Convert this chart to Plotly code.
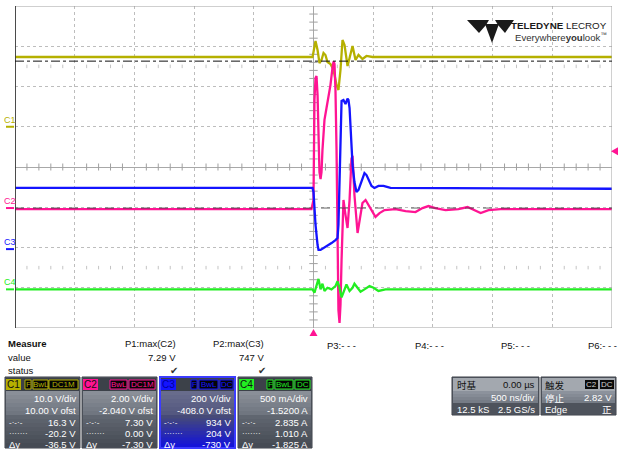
import plotly.graph_objects as go

W, H = 618, 449

# ---------------- acquisition record (time in µs, 0 = trigger) ----------------
c1_t = [-2.5, -0.008, 0.0, 0.017, 0.034, 0.050, 0.067, 0.084, 0.100, 0.117, 0.142, 0.168, 0.193,
        0.209, 0.226, 0.243, 0.260, 0.285, 0.302, 0.327, 0.352, 0.377, 0.410, 0.444, 0.494, 2.5]
c1_v = [17.33, 17.33, 18.57, 21.3, 19.07, 15.84, 16.58, 18.32, 17.83, 16.09, 15.59, 14.1, 10.37,
        9.13, 14.1, 21.55, 20.31, 15.09, 17.08, 20.06, 16.58, 17.83, 16.83, 17.58, 17.33, 17.33]

c2_t = [-2.5, -0.017, 0.0, 0.008, 0.017, 0.025, 0.034, 0.042, 0.050, 0.059, 0.067, 0.075, 0.092,
        0.109, 0.126, 0.142, 0.159, 0.168, 0.176, 0.184, 0.193, 0.201, 0.209, 0.218, 0.226, 0.235,
        0.243, 0.251, 0.268, 0.285, 0.302, 0.318, 0.327, 0.343, 0.369, 0.385, 0.410, 0.436, 0.461,
        0.494, 0.519, 0.553, 0.595, 0.687, 0.771, 0.854, 0.913, 0.963, 1.020, 1.106, 1.214, 1.290,
        1.348, 1.400, 1.466, 1.566, 2.5]
c2_v = [-0.05, -0.05, 0.40, 5.37, 6.46, 6.56, 5.62, 2.88, 1.79, 1.44, 1.79, 2.88, 4.38,
        4.97, 5.47, 6.11, 6.96, 7.29, 7.16, 5.87, 2.88, -2.08, -5.07, -5.71, -4.82, -2.58,
        -0.34, 0.40, -0.34, -0.99, 0.40, 2.45, 2.60, 0.65, -1.24, -0.69, 0.25, 0.40, 0.15,
        -0.25, -0.44, -0.25, -0.10, -0.05, -0.15, -0.20, 0.0, 0.10, 0.0, -0.10, -0.05, 0.05,
        -0.10, -0.25, -0.10, -0.05, -0.05]

c3_t = [-2.5, -0.008, 0.0, 0.017, 0.034, 0.042, 0.059, 0.084, 0.117, 0.151, 0.184, 0.201, 0.209,
        0.218, 0.226, 0.235, 0.251, 0.268, 0.285, 0.293, 0.302, 0.310, 0.318, 0.327, 0.343, 0.360,
        0.377, 0.394, 0.410, 0.427, 0.444, 0.461, 0.486, 0.511, 0.544, 0.586, 0.645, 2.5]
c3_v = [304, 304, 284, 120, 20, -4, -4, 5, 15, 30, 45, 55, 120,
        393, 642, 736, 741, 721, 747, 741, 701, 617, 492, 418, 333, 284,
        294, 324, 353, 378, 368, 343, 314, 304, 314, 314, 304, 300]

c4_t = [-2.5, -0.008, 0.008, 0.025, 0.042, 0.059, 0.075, 0.092, 0.117, 0.151, 0.184, 0.201, 0.218,
        0.235, 0.251, 0.276, 0.302, 0.327, 0.343, 0.369, 0.394, 0.427, 0.469, 0.503, 0.544, 0.603, 2.5]
c4_v = [0, 0, -0.04, 0.04, 0.13, 0.0, 0.07, -0.02, 0.02, 0.0, 0.04, 0.10, 0.02,
        -0.10, -0.03, 0.06, -0.02, 0.02, 0.07, 0.02, -0.03, 0.0, 0.04, 0.02, -0.02, 0.0, 0.0]

# vertical setup per channel: scale per division and offset
ch_names = ["C1", "C2", "C3", "C4"]
ch_vdiv = [10.0, 2.00, 200.0, 0.5]
ch_ofst = [10.0, -2.040, -408.0, -1.52]
ch_color = ["#b5b000", "#ff1493", "#1414ff", "#22ee22"]
ch_time = [c1_t, c2_t, c3_t, c4_t]
ch_vals = [c1_v, c2_v, c3_v, c4_v]

# on-screen cursors (C2 units) and trigger level
cursor_hi = 7.30
cursor_lo = 0.00
trig_level = 2.82

# readouts
meas_names = ["P1:max(C2)", "P2:max(C3)"]
meas_vals = ["7.29 V", "747 V"]
ch_rows = [
    ["10.0 V/div", "10.00 V ofst", "16.3 V", "-20.2 V", "-36.5 V"],
    ["2.00 V/div", "-2.040 V ofst", "7.30 V", "0.00 V", "-7.30 V"],
    ["200 V/div", "-408.0 V ofst", "934 V", "204 V", "-730 V"],
    ["500 mA/div", "-1.5200 A", "2.835 A", "1.010 A", "-1.825 A"],
]
ch_tags = [["F", "BwL", "DC1M"], ["BwL", "DC1M"], ["F", "BwL", "DC"], ["F", "BwL", "DC"]]

FONT = "Liberation Sans, Arial, sans-serif"
CJK = "Noto Sans CJK SC, sans-serif"
FS = 9.5


def px(x):
    return x / W


def py(y):
    return 1 - y / H


fig = go.Figure()
shapes = []
ann = []

# ---------------- graticule ----------------
X0, X1, Y0, Y1 = 15, 612, 6, 328
US_PER_PX = 5.0 / (X1 - X0)
layout_axes = dict(
    xaxis=dict(domain=[px(X0), px(X1)], range=[-2.5, 2.5], dtick=0.5, tick0=0,
               showticklabels=False, ticks="", showgrid=True, gridcolor="#bdbdbd",
               griddash="dot", gridwidth=1, zeroline=True, zerolinecolor="#a8a8a8",
               zerolinewidth=1, fixedrange=True, showline=False),
    yaxis=dict(domain=[py(Y1), py(Y0)], range=[-4, 4], dtick=1, tick0=0,
               showticklabels=False, ticks="", showgrid=True, gridcolor="#bdbdbd",
               griddash="dot", gridwidth=1, zeroline=True, zerolinecolor="#a8a8a8",
               zerolinewidth=1, fixedrange=True, showline=False),
)
for i in range(4):
    c = -ch_ofst[i]
    layout_axes["yaxis%d" % (i + 2)] = dict(
        overlaying="y", anchor="x", visible=False, fixedrange=True,
        range=[c - 4 * ch_vdiv[i], c + 4 * ch_vdiv[i]])

# minor ticks on the centre cross and the ±2.5 div rows
mx = [k / 10 for k in range(-24, 25) if k % 5 != 0]
my = [k / 5 for k in range(-19, 20) if k % 5 != 0]
tick_style = dict(mode="markers", hoverinfo="skip", showlegend=False, cliponaxis=False)
fig.add_trace(go.Scatter(x=mx, y=[0] * len(mx), marker=dict(symbol="line-ns", size=5,
              line=dict(color="#a0a0a0", width=1)), **tick_style))
fig.add_trace(go.Scatter(x=[0] * len(my), y=my, marker=dict(symbol="line-ew", size=6,
              line=dict(color="#a0a0a0", width=1)), **tick_style))
for row in (2.5, -2.5):
    fig.add_trace(go.Scatter(x=mx, y=[row] * len(mx), marker=dict(symbol="line-ns", size=2.5,
                  line=dict(color="#c4c4c4", width=1)), **tick_style))

# frame
shapes.append(dict(type="rect", xref="x", yref="y", x0=-2.5, x1=2.5, y0=-4, y1=4,
                   line=dict(color="#a0a0a0", width=1), layer="above"))
shapes.append(dict(type="line", xref="x", yref="y", x0=-2.5, x1=-2.5, y0=-4, y1=4,
                   line=dict(color="#2a2a2a", width=1.6), layer="above"))

# ---------------- waveforms ----------------
for i in range(4):
    fig.add_trace(go.Scatter(x=ch_time[i], y=ch_vals[i], yaxis="y%d" % (i + 2), mode="lines",
                             line=dict(color=ch_color[i], width=2.3), hoverinfo="skip",
                             showlegend=False, name=ch_names[i]))

# cursors
shapes.append(dict(type="line", xref="x", yref="y3", x0=-2.5, x1=2.5, y0=cursor_hi, y1=cursor_hi,
                   line=dict(color="#111111", width=1, dash="dashdot"), layer="above"))
shapes.append(dict(type="line", xref="x", yref="y3", x0=-2.5, x1=2.5, y0=cursor_lo, y1=cursor_lo,
                   line=dict(color="#3a3a3a", width=1, dash="dash"), layer="above", opacity=0.75))

# trigger level arrow (right edge) and trigger position arrow (below the grid)
dv = 4 * ch_vdiv[1] / 40.25
shapes.append(dict(type="path", xref="paper", yref="y3",
                   path="M %.5f,%.4f L %.5f,%.4f L %.5f,%.4f Z" % (
                       px(618), trig_level + dv, px(611), trig_level, px(618), trig_level - dv),
                   fillcolor=ch_color[1], line=dict(width=0)))
dt = 4 * US_PER_PX
shapes.append(dict(type="path", xref="x", yref="paper",
                   path="M %.4f,%.5f L 0,%.5f L %.4f,%.5f Z" % (-dt, py(336), py(329), dt, py(336)),
                   fillcolor=ch_color[1], line=dict(width=0)))

# channel ground markers on the left
for i in range(4):
    ref = "y%d" % (i + 2)
    shapes.append(dict(type="line", xref="paper", yref=ref, x0=px(6), x1=px(14), y0=0, y1=0,
                       line=dict(color=ch_color[i], width=2)))
    ann.append(dict(text=ch_names[i], xref="paper", yref=ref, x=px(10), y=0, yshift=7,
                    showarrow=False, xanchor="center", yanchor="middle",
                    font=dict(family=FONT, size=9, color=ch_color[i])))


# ---------------- logo ----------------
def poly(pts, color):
    d = "M " + " L ".join("%.5f,%.5f" % (px(a), py(b)) for a, b in pts) + " Z"
    return dict(type="path", xref="paper", yref="paper", path=d, fillcolor=color,
                line=dict(width=0))


shapes.append(poly([(467, 20), (489, 20), (486, 25), (479, 33)], "#1a1a1a"))
shapes.append(poly([(485, 24), (499, 24), (492, 43)], "#1a1a1a"))
shapes.append(poly([(495, 20), (514, 20), (505, 33), (498, 25)], "#1a1a1a"))
ann.append(dict(text="<b>TELEDYNE</b> LECROY", xref="paper", yref="paper", x=px(609), y=py(25),
                showarrow=False, xanchor="right", yanchor="middle",
                font=dict(family=FONT, size=9.8, color="#1a1a1a")))
ann.append(dict(text="Everywhere<b>you</b>look<sup>™</sup>", xref="paper", yref="paper",
                x=px(609), y=py(37), showarrow=False, xanchor="right", yanchor="middle",
                font=dict(family=FONT, size=9.6, color="#333333")))


# ---------------- measurement table ----------------
def text(s, x, y, anchor="left", size=FS, color="#111111", family=FONT):
    ann.append(dict(text=s, xref="paper", yref="paper", x=px(x), y=py(y), showarrow=False,
                    xanchor=anchor, yanchor="middle", font=dict(family=family, size=size, color=color)))


text("<b>Measure</b>", 6, 343)
text("value", 6, 357)
text("status", 6, 370)
for name, val, xr in zip(meas_names, meas_vals, (178, 266)):
    text(name, xr, 343, "right")
    text(val, xr, 357, "right")
    text("✔", xr - 4, 370, "center", 10, "#333333", "DejaVu Sans, sans-serif")
for name, xl in zip(["P3:- - -", "P4:- - -", "P5:- - -", "P6:- - -"], (325, 413, 499, 586)):
    text(name, xl, 345, "left")


def rect(x0, y0, x1, y1, fill, line=None, lw=0):
    shapes.append(dict(type="rect", xref="paper", yref="paper", x0=px(x0), x1=px(x1),
                       y0=py(y1), y1=py(y0), fillcolor=fill,
                       line=dict(color=line or fill, width=lw)))


def gradient(x0, y0, x1, y1, c_top, c_bot, steps=8):
    h = (y1 - y0) / steps
    for k in range(steps):
        f = k / (steps - 1)
        col = "rgb(%d,%d,%d)" % tuple(int(round(a + (b - a) * f)) for a, b in zip(c_top, c_bot))
        rect(x0, y0 + k * h, x1, y0 + (k + 1) * h + 0.5, col)


box_x = [(5, 80), (82, 157), (160, 235), (238, 312)]
badge_w = 15
tag_pos = [[(25, 31), (33, 48), (49, 78)],
           [(110, 127), (129, 155)],
           [(191, 197), (199, 218), (220, 233)],
           [(267, 273), (275, 293), (295, 310)]]
for i, (xa, xb) in enumerate(box_x):
    col = ch_color[i]
    sel = (i == 2)
    rect(xa, 377, xb, 448, "#5a606a", "#3a3f47", 1)
    rect(xa + 1, 378, xb - 1, 391, "#3c4149")
    if sel:
        gradient(xa + 1, 391, xb - 1, 415, (104, 108, 140), (84, 88, 128), 6)
        gradient(xa + 1, 415, xb - 1, 447, (70, 74, 120), (20, 20, 215), 10)
    else:
        gradient(xa + 1, 391, xb - 1, 415, (138, 143, 152), (112, 118, 128), 6)
        gradient(xa + 1, 415, xb - 1, 447, (96, 102, 112), (70, 75, 84), 8)
    if sel:
        shapes.append(dict(type="rect", xref="paper", yref="paper", x0=px(xa), x1=px(xb),
                           y0=py(448), y1=py(377), line=dict(color="#3c3cff", width=2),
                           fillcolor="rgba(0,0,0,0)"))
    rect(xa + 1, 379, xa + 1 + badge_w, 390, col)
    text(ch_names[i], xa + 1 + badge_w / 2, 384.5, "center", 10,
         "#0000a0" if sel else "#111111")
    for tg, (ta, tb) in zip(ch_tags[i], tag_pos[i]):
        rect(ta, 380, tb, 389, "#050505", col, 1)
        text(tg, (ta + tb) / 2, 384.5, "center", 8, col)
    rows = ch_rows[i]
    for r, yy in zip(rows, (398, 410, 422, 433, 444)):
        text(r, xb - 2, yy, "right", FS, "#ffffff")
    text("-·-·-", xa + 2, 422, "left", 8, "#ffffff")
    text("·······", xa + 2, 433, "left", 8, "#ffffff")
    text("Δy", xa + 2, 444, "left", FS, "#ffffff")

# timebase readout
rect(452, 377, 539, 415, "#5a606a", "#3a3f47", 1)
rect(453, 378, 538, 391, "#a3a8af")
gradient(453, 391, 538, 403, (140, 146, 156), (118, 124, 134), 4)
rect(453, 403, 538, 414, "#4e535c")
text("时基", 455, 384.5, "left", FS, "#111111", CJK)
text("0.00 µs", 537, 384.5, "right", FS, "#111111")
text("500 ns/div", 537, 397.5, "right", FS, "#ffffff")
text("12.5 kS", 455, 409, "left", FS, "#ffffff")
text("2.5 GS/s", 537, 409, "right", FS, "#ffffff")

# trigger readout
rect(541, 377, 616, 415, "#5a606a", "#3a3f47", 1)
rect(542, 378, 615, 391, "#a3a8af")
gradient(542, 391, 615, 403, (140, 146, 156), (118, 124, 134), 4)
rect(542, 403, 615, 414, "#4e535c")
text("触发", 543, 384.5, "left", FS, "#111111", CJK)
rect(585, 380, 598, 389, "#0a0a0a")
text("C2", 591.5, 384.5, "center", 8, "#cfcfcf")
rect(600, 380, 614, 389, "#0a0a0a")
text("DC", 607, 384.5, "center", 8, "#cfcfcf")
text("停止", 543, 397.5, "left", FS, "#ffffff", CJK)
text("2.82 V", 614, 397.5, "right", FS, "#ffffff")
text("Edge", 543, 409, "left", FS, "#ffffff")
text("正", 614, 409, "right", FS, "#ffffff", CJK)

fig.update_layout(
    width=W, height=H, margin=dict(l=0, r=0, t=0, b=0),
    paper_bgcolor="white", plot_bgcolor="white", showlegend=False,
    shapes=shapes, annotations=ann, **layout_axes,
)
fig.write_html("out.html", config={"displayModeBar": False})
